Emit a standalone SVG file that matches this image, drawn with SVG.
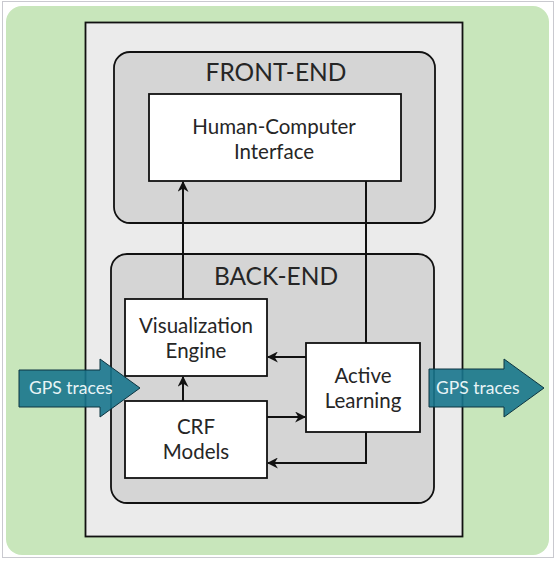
<svg xmlns="http://www.w3.org/2000/svg" width="556" height="566" viewBox="0 0 556 566">
  <defs>
    <marker id="head" viewBox="0 0 10 10" refX="9" refY="5" markerWidth="11" markerHeight="11" markerUnits="userSpaceOnUse" orient="auto">
      <path d="M0,0 L10,5 L0,10 L3,5 Z" fill="#111"/>
    </marker>
  </defs>
  <style>
    .lbl { font-family: Lato, "Liberation Sans", sans-serif; fill: #262626; text-anchor: middle; }
    .title { font-size: 24.5px; }
    .node { font-size: 20.5px; }
    .box { fill: #ffffff; stroke: #111; stroke-width: 1.8; }
    .tier { fill: #d5d5d5; stroke: #111; stroke-width: 1.8; }
    .wire { fill: none; stroke: #111; stroke-width: 2; }
    .flow { fill: #18758d; fill-opacity: 0.9; stroke: #0d3440; stroke-width: 1; }
    .flowtxt { font-family: Lato, "Liberation Sans", sans-serif; font-size: 17.5px; fill: #e8f4f6; }
  </style>

  <!-- background -->
  <rect x="0" y="0" width="556" height="566" fill="#ffffff"/>
  <rect x="2.5" y="1.5" width="551" height="556" fill="none" stroke="#c9c9cf" stroke-width="1"/>
  <rect x="6" y="6" width="543" height="549" rx="16" fill="#c8e6bb"/>

  <!-- system panel -->
  <rect x="85.5" y="22.5" width="377" height="514" fill="#ebebeb" stroke="#111" stroke-width="1.8"/>

  <!-- front-end tier -->
  <g id="front-end">
    <rect class="tier" x="114" y="52" width="321" height="171" rx="16"/>
    <text class="lbl title" x="276" y="81">FRONT-END</text>
  </g>

  <!-- back-end tier -->
  <g id="back-end">
    <rect class="tier" x="111" y="254" width="323" height="249" rx="16"/>
    <text class="lbl title" x="276" y="285">BACK-END</text>
  </g>

  <g id="hci">
    <rect class="box" x="149" y="94" width="252" height="87"/>
    <text class="lbl node" x="274" y="134">Human-Computer</text>
    <text class="lbl node" x="274" y="159">Interface</text>
  </g>

  <g id="visualization-engine">
    <rect class="box" x="125" y="299" width="142" height="77"/>
    <text class="lbl node" x="196" y="333">Visualization</text>
    <text class="lbl node" x="196" y="358">Engine</text>
  </g>

  <g id="crf-models">
    <rect class="box" x="125" y="401" width="142" height="77"/>
    <text class="lbl node" x="196" y="434">CRF</text>
    <text class="lbl node" x="196" y="459">Models</text>
  </g>

  <g id="active-learning">
    <rect class="box" x="306" y="343" width="114" height="89"/>
    <text class="lbl node" x="363" y="383">Active</text>
    <text class="lbl node" x="363" y="408">Learning</text>
  </g>

  <g id="connectors">
    <line class="wire" x1="183" y1="299" x2="183" y2="182" marker-end="url(#head)"/>
    <line class="wire" x1="366" y1="181" x2="366" y2="343"/>
    <line class="wire" x1="306" y1="357" x2="268" y2="357" marker-end="url(#head)"/>
    <line class="wire" x1="267" y1="417" x2="305" y2="417" marker-end="url(#head)"/>
    <polyline class="wire" points="366,432 366,463 268,463" marker-end="url(#head)"/>
    <line class="wire" x1="183" y1="401" x2="183" y2="377" marker-end="url(#head)"/>
  </g>

  <!-- GPS trace input -->
  <g id="gps-in">
    <path class="flow" d="M19,370 H100 V359 L140,388 L100,417 V407 H19 Z"/>
    <text class="flowtxt" x="29" y="394">GPS traces</text>
  </g>

  <!-- GPS trace output -->
  <g id="gps-out">
    <path class="flow" d="M429,369 H504 V359 L544,388 L504,417 V407 H429 Z"/>
    <text class="flowtxt" x="436" y="394">GPS traces</text>
  </g>
</svg>
